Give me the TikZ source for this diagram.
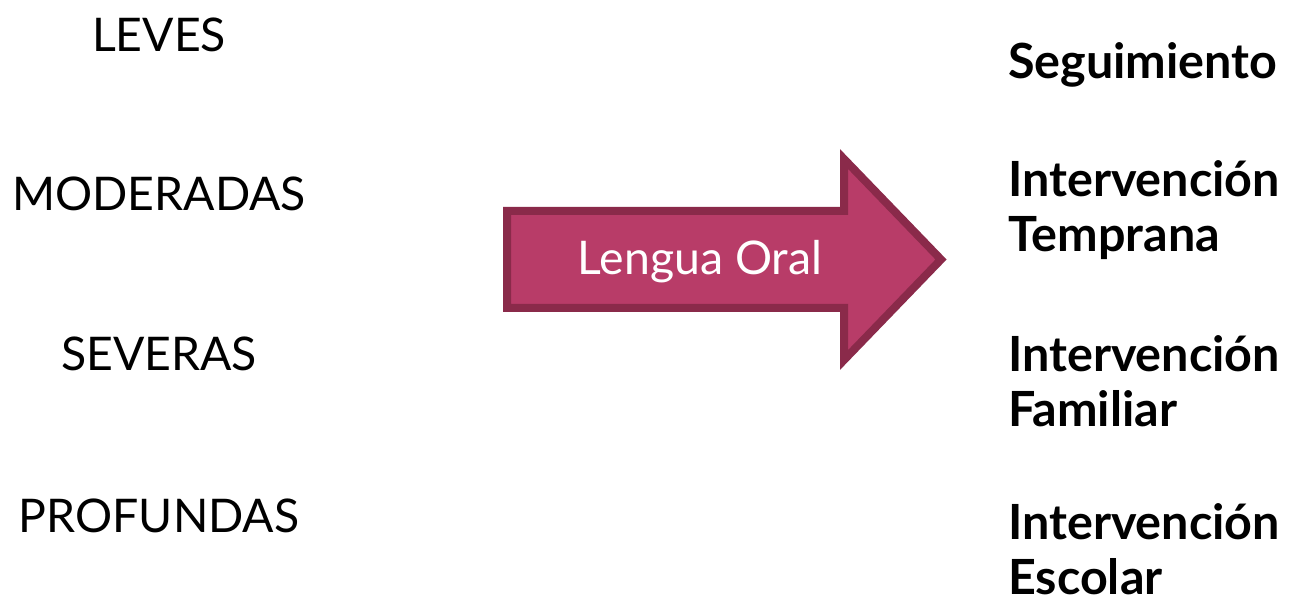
\documentclass[tikz,border=0pt]{standalone}
\usepackage{fontspec}
\setmainfont{Lato}
\definecolor{arrowfill}{HTML}{B83C68}
\definecolor{arrowedge}{HTML}{8A2A4A}
\begin{document}
\begin{tikzpicture}[x=0.02cm,y=-0.02cm,
        grade node/.style={font=\fontsize{26.4}{32}\selectfont},
        action node/.style={font=\bfseries\fontsize{27.6}{31}\selectfont,align=left,anchor=west},
        oral arrow/.style={draw=arrowedge,fill=arrowfill,line width=0.16cm,line join=miter}]
        \useasboundingbox (0,0) rectangle (1298,604);

        \node[grade node] at (159, 35) (leves) {LEVES};
        \node[grade node] at (159, 194) (moderadas) {MODERADAS};
        \node[grade node] at (159, 354) (severas) {SEVERAS};
        \node[grade node] at (159, 516) (profundas) {PROFUNDAS};

        \path[oral arrow] (507,211) -- (844,211) -- (844,159) -- (941,259.5)
            -- (844,360) -- (844,308) -- (507,308) -- cycle;
        \node[grade node,text=white] at (700, 262) (oral) {Lengua Oral};

        \node[action node] at (1002, 65) (seguimiento) {Seguimiento};
        \node[action node] at (1002, 210) (temprana) {Intervención\\Temprana};
        \node[action node] at (1002, 381) (familiar) {Intervención\\Familiar};
        \node[action node] at (1002, 549) (escolar) {Intervención\\Escolar};
    \end{tikzpicture}
\end{document}
